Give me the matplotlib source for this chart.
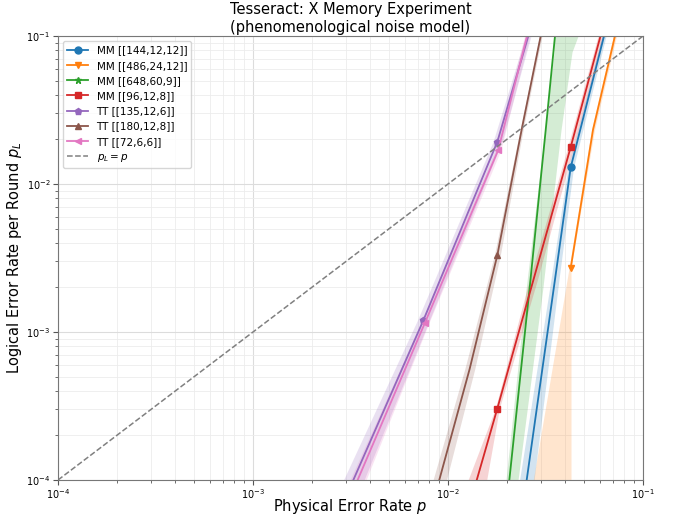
import matplotlib
matplotlib.use('Agg')
import matplotlib.pyplot as plt
from matplotlib.lines import Line2D

# MM [[144,12,12]]
mm144_p = [0.02532, 0.03537, 0.04257, 0.0631]
mm144_pl = [1e-4, 2.263e-3, 0.01294, 0.1]
mm144_mk_p = [0.0426]
mm144_mk_pl = [0.01294]
mm144_band_pl = [1e-4, 2.263e-3, 0.01294, 0.1]
mm144_band_lo = [0.02328, 0.03373, 0.04121, 0.0617]
mm144_band_hi = [0.02761, 0.03707, 0.04402, 0.0646]

# MM [[486,24,12]]
mm486_p = [0.04257, 0.0554, 0.0718]
mm486_pl = [2.70e-3, 0.02323, 0.1]
mm486_mk_p = [0.0426]
mm486_mk_pl = [2.70e-3]
mm486_band_pl = [1e-4, 2.70e-3, 0.02323, 0.1]
mm486_band_lo = [0.02737, 0.04174, 0.0544, 0.0705]
mm486_band_hi = [0.04273, 0.04273, 0.0564, 0.0731]

# MM [[648,60,9]]
mm648_p = [0.02063, 0.02633, 0.03170, 0.03537]
mm648_pl = [1e-4, 2.094e-3, 0.02323, 0.1]
mm648_mk_p = []
mm648_mk_pl = []
mm648_band_pl = [1e-4, 1.936e-3, 0.02323, 0.078, 0.1]
mm648_band_lo = [0.01983, 0.02512, 0.03144, 0.03496, 0.03475]
mm648_band_hi = [0.02286, 0.03059, 0.03798, 0.04324, 0.04642]

# MM [[96,12,8]]
mm96_p = [0.01404, 0.01790, 0.04257, 0.06053]
mm96_pl = [1e-4, 3.04e-4, 0.01776, 0.1]
mm96_mk_p = [0.0179, 0.0426]
mm96_mk_pl = [3.04e-4, 0.01776]
mm96_band_pl = [1e-4, 3.04e-4, 2.263e-3, 0.01776, 0.1]
mm96_band_lo = [0.01267, 0.01748, 0.02617, 0.04111, 0.05876]
mm96_band_hi = [0.01579, 0.01833, 0.02877, 0.04411, 0.06236]

# TT [[135,12,6]]
tt135_p = [3.27e-3, 7.47e-3, 0.0179, 0.02581]
tt135_pl = [1e-4, 1.197e-3, 0.01928, 0.1]
tt135_mk_p = [7.47e-3, 0.0179]
tt135_mk_pl = [1.197e-3, 0.01928]
tt135_band_pl = [1e-4, 1.197e-3, 0.01928, 0.1]
tt135_band_lo = [2.91e-3, 6.96e-3, 0.01701, 0.02496]
tt135_band_hi = [3.71e-3, 8.02e-3, 0.01891, 0.02664]

# TT [[180,12,8]]
tt180_p = [9.02e-3, 0.0129, 0.0179, 0.02396, 0.02988]
tt180_pl = [1e-4, 5.60e-4, 3.30e-3, 0.02396, 0.1]
tt180_mk_p = [0.0179]
tt180_mk_pl = [3.30e-3]
tt180_band_pl = [1e-4, 5.60e-4, 3.30e-3, 0.02396, 0.1]
tt180_band_lo = [8.38e-3, 0.01218, 0.01728, 0.02353, 0.02945]
tt180_band_hi = [9.82e-3, 0.01370, 0.01854, 0.02438, 0.03034]

# TT [[72,6,6]]
tt72_p = [3.44e-3, 7.62e-3, 0.01811, 0.02542]
tt72_pl = [1e-4, 1.156e-3, 0.01703, 0.1]
tt72_mk_p = [7.62e-3, 0.0181]
tt72_mk_pl = [1.156e-3, 0.01703]
tt72_band_pl = [1e-4, 1.156e-3, 0.01703, 0.1]
tt72_band_lo = [3.14e-3, 7.27e-3, 0.01752, 0.02467]
tt72_band_hi = [3.80e-3, 7.99e-3, 0.01869, 0.02617]

series = [
    ('MM [[144,12,12]]', 'tab:blue', 'o', mm144_p, mm144_pl, mm144_mk_p, mm144_mk_pl,
     mm144_band_pl, mm144_band_lo, mm144_band_hi),
    ('MM [[486,24,12]]', 'tab:orange', 'v', mm486_p, mm486_pl, mm486_mk_p, mm486_mk_pl,
     mm486_band_pl, mm486_band_lo, mm486_band_hi),
    ('MM [[648,60,9]]', 'tab:green', '*', mm648_p, mm648_pl, mm648_mk_p, mm648_mk_pl,
     mm648_band_pl, mm648_band_lo, mm648_band_hi),
    ('MM [[96,12,8]]', 'tab:red', 's', mm96_p, mm96_pl, mm96_mk_p, mm96_mk_pl,
     mm96_band_pl, mm96_band_lo, mm96_band_hi),
    ('TT [[135,12,6]]', 'tab:purple', 'p', tt135_p, tt135_pl, tt135_mk_p, tt135_mk_pl,
     tt135_band_pl, tt135_band_lo, tt135_band_hi),
    ('TT [[180,12,8]]', 'tab:brown', '^', tt180_p, tt180_pl, tt180_mk_p, tt180_mk_pl,
     tt180_band_pl, tt180_band_lo, tt180_band_hi),
    ('TT [[72,6,6]]', 'tab:pink', '<', tt72_p, tt72_pl, tt72_mk_p, tt72_mk_pl,
     tt72_band_pl, tt72_band_lo, tt72_band_hi),
]

diag = [1e-4, 1e-1]

fig = plt.figure(figsize=(6.78, 5.19), dpi=100)
ax = fig.add_axes([0.0855, 0.0751, 0.8629, 0.8555])

handles = []
for name, c, m, lp, lpl, mp, mpl, bpl, blo, bhi in series:
    ax.fill_betweenx(bpl, blo, bhi, color=c, alpha=0.2, linewidth=0)
    ax.plot(lp, lpl, color=c, lw=1.3)
    ax.plot(mp, mpl, color=c, marker=m, ls='none', markersize=5)
    handles.append(Line2D([0], [0], color=c, marker=m, lw=1.3, markersize=5, label=name))

ax.plot(diag, diag, ls='--', color='gray', lw=1.1)
handles.append(Line2D([0], [0], ls='--', color='gray', lw=1.1, label='$p_L = p$'))

ax.set_xscale('log')
ax.set_yscale('log')
ax.set_xlim(1e-4, 1e-1)
ax.set_ylim(1e-4, 1e-1)
ax.grid(which='major', color='#dcdcdc', lw=0.8)
ax.grid(which='minor', color='#ececec', lw=0.6)
ax.set_axisbelow(True)
for s in ax.spines.values():
    s.set_color('#777777')
ax.tick_params(which='major', length=3.5)
ax.tick_params(which='minor', length=2)
ax.tick_params(which='both', labelsize=7, color='#555555', pad=2)

ax.set_title('Tesseract: X Memory Experiment\n(phenomenological noise model)', fontsize=10.5, pad=3)
ax.set_xlabel('Physical Error Rate $p$', fontsize=10.5)
ax.set_ylabel('Logical Error Rate per Round $p_L$', fontsize=10.5)
ax.xaxis.set_label_coords(0.5, -0.038)
ax.yaxis.set_label_coords(-0.058, 0.5)
ax.legend(handles=handles, loc='upper left', fontsize=7.5)

fig.savefig('out.png', dpi=100)
